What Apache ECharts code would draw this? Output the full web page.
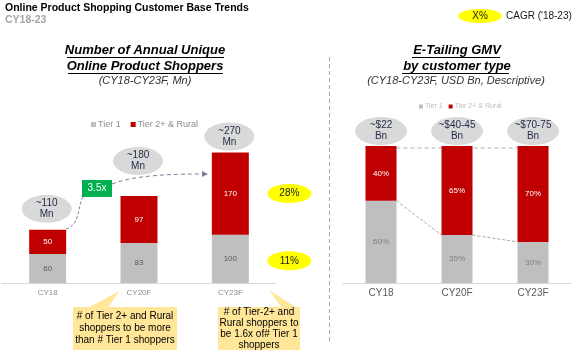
<!DOCTYPE html>
<html><head><meta charset="utf-8">
<script src="https://cdn.jsdelivr.net/npm/echarts@6/dist/echarts.min.js"></script>
<style>html,body{margin:0;padding:0;background:#fff}#c{width:583px;height:360px}</style>
</head><body><div id="c"></div>
<script>
const categories = ['CY18', 'CY20F', 'CY23F'];
const shopTier1 = [60, 83, 100];
const shopTier2 = [50, 97, 170];
const shopTotalLabels = ['~110\nMn', '~180\nMn', '~270\nMn'];
const gmvTier1 = [60, 35, 30];
const gmvTier2 = [40, 65, 70];
const gmvTotalLabels = ['~$22\nBn', '~$40-45\nBn', '~$70-75\nBn'];
const cagrLabels = ['11%', '28%'];
const growthMultiple = '3.5x';
const seriesNames = ['Tier 1', 'Tier 2+ & Rural'];

const FF = 'Liberation Sans, Arial, sans-serif';
const RED = '#C00000', GRAY = '#BFBFBF';

function ellipseItem(labels, lifts, rx, ry, fill, font, dx, color) {
  return function (params, api) {
    const i = params.dataIndex;
    const p = api.coord([api.value(0), api.value(1)]);
    const cx = p[0] + dx, cy = p[1] - lifts[i];
    return {
      type: 'group', children: [
        { type: 'circle', x: cx, y: cy, scaleX: rx / ry, shape: { cx: 0, cy: 0, r: ry }, style: { fill: fill } },
        { type: 'text', x: cx, y: cy, style: { text: labels[i], fill: color, font: font, align: 'center', verticalAlign: 'middle', lineHeight: 11 } }
      ]
    };
  };
}

const chart = echarts.init(document.getElementById('c'));
const option = {
  animation: false,
  textStyle: { fontFamily: FF },
  grid: [
    { left: 2, width: 274, top: 138, height: 145 },
    { left: 343, width: 228, top: 146, height: 137 }
  ],
  xAxis: [
    { gridIndex: 0, type: 'category', data: categories, axisTick: { show: false },
      axisLine: { lineStyle: { color: '#D9D9D9', width: 1 } },
      axisLabel: { color: '#8C8C8C', fontSize: 8, margin: 6, fontFamily: FF } },
    { gridIndex: 1, type: 'category', data: categories, axisTick: { show: false },
      axisLine: { lineStyle: { color: '#D9D9D9', width: 1 } },
      axisLabel: { color: '#595959', fontSize: 10, margin: 5, fontFamily: FF } }
  ],
  yAxis: [
    { gridIndex: 0, type: 'value', min: 0, max: 300, show: false },
    { gridIndex: 1, type: 'value', min: 0, max: 100, show: false }
  ],
  legend: [
    { data: seriesNames, left: 86, top: 115, itemWidth: 5, itemHeight: 5, itemGap: 10,
      icon: 'rect', textStyle: { color: '#8C8C8C', fontSize: 9, fontFamily: FF, padding: [0, 0, 0, -3] } },
    { data: seriesNames, left: 414, top: 98, itemWidth: 4, itemHeight: 4, itemGap: 6,
      icon: 'rect', textStyle: { color: '#BFBFBF', fontSize: 7, fontFamily: FF, padding: [0, 0, 0, -3] } }
  ],
  series: [
    { name: seriesNames[0], type: 'bar', xAxisIndex: 0, yAxisIndex: 0, stack: 'shop', data: shopTier1,
      barWidth: 37, itemStyle: { color: GRAY },
      label: { show: true, position: 'inside', color: '#595959', fontSize: 8, fontFamily: FF } },
    { name: seriesNames[1], type: 'bar', xAxisIndex: 0, yAxisIndex: 0, stack: 'shop', data: shopTier2,
      barWidth: 37, itemStyle: { color: RED },
      label: { show: true, position: 'inside', color: '#FFFFFF', fontSize: 8, fontFamily: FF } },
    { type: 'custom', xAxisIndex: 0, yAxisIndex: 0, silent: true, z: 5,
      data: shopTier1.map((v, i) => [i, v + shopTier2[i]]),
      renderItem: ellipseItem(shopTotalLabels, [21, 35, 16], 25, 14, '#D9D9D9', '10px ' + FF, -1, '#1F2A44') },
    { type: 'custom', xAxisIndex: 0, yAxisIndex: 0, silent: true, z: 5,
      data: [[2, shopTier1[2] / 2], [2, shopTier1[2] + shopTier2[2] / 2]],
      renderItem: ellipseItem(cagrLabels, [-2, 0], 22, 9.5, '#FFFF00', '10px ' + FF, 59, '#1a1a1a') },
    { name: seriesNames[0], type: 'bar', xAxisIndex: 1, yAxisIndex: 1, stack: 'gmv', data: gmvTier1,
      barWidth: 31, itemStyle: { color: GRAY },
      label: { show: true, position: 'inside', color: '#7F7F7F', fontSize: 8, fontFamily: FF, formatter: '{c}%' } },
    { name: seriesNames[1], type: 'bar', xAxisIndex: 1, yAxisIndex: 1, stack: 'gmv', data: gmvTier2,
      barWidth: 31, itemStyle: { color: RED },
      label: { show: true, position: 'inside', color: '#FFFFFF', fontSize: 8, fontFamily: FF, formatter: '{c}%' } },
    { type: 'custom', xAxisIndex: 1, yAxisIndex: 1, silent: true, z: 5,
      data: gmvTier1.map((v, i) => [i, v + gmvTier2[i]]),
      renderItem: ellipseItem(gmvTotalLabels, [15, 15, 15], 26, 14, '#D9D9D9', '10px ' + FF, 0, '#1F2A44') },
    { type: 'custom', xAxisIndex: 1, yAxisIndex: 1, silent: true, z: 1,
      data: gmvTier1.slice(0, -1).map((v, i) => [i, v]),
      renderItem: function (params, api) {
        const i = params.dataIndex;
        const half = 15.5;
        const a = api.coord([i, gmvTier1[i]]);
        const b = api.coord([i + 1, gmvTier1[i + 1]]);
        const children = [
          { type: 'line', shape: { x1: a[0] + half, y1: a[1], x2: b[0] - half, y2: b[1] },
            style: { stroke: '#A6A6A6', lineWidth: 1, lineDash: [3, 2] } }
        ];
        if (i === 0) {
          const t0 = api.coord([0, gmvTier1[0] + gmvTier2[0]]);
          const n = gmvTier1.length - 1;
          const t1 = api.coord([n, gmvTier1[n] + gmvTier2[n]]);
          children.push({ type: 'line', shape: { x1: t0[0] + half, y1: t0[1] + 2, x2: t1[0] - half, y2: t1[1] + 2 },
            style: { stroke: '#B0B0B0', lineWidth: 1, lineDash: [4, 3] } });
        }
        return { type: 'group', children: children };
      } }
  ],
  graphic: [
    { type: 'text', left: 5, top: 3, style: { text: 'Online Product Shopping Customer Base Trends', font: 'bold 10.5px ' + FF, fill: '#000' } },
    { type: 'text', left: 5, top: 15, style: { text: 'CY18-23', font: 'bold 10.5px ' + FF, fill: '#A5A5A5' } },
    // CAGR key
    { type: 'ellipse', shape: { cx: 480, cy: 16, rx: 22, ry: 7 }, style: { fill: '#FFFF00' } },
    { type: 'text', x: 480, y: 16, style: { text: 'X%', font: '10px ' + FF, fill: '#1a1a1a', align: 'center', verticalAlign: 'middle' } },
    { type: 'text', x: 506, y: 16, style: { text: "CAGR ('18-23)", font: '10px ' + FF, fill: '#1a1a1a', align: 'left', verticalAlign: 'middle' } },
    // left titles
    { type: 'text', x: 145, y: 50, style: { text: 'Number of Annual Unique', font: 'italic bold 13px ' + FF, fill: '#000', align: 'center', verticalAlign: 'middle' } },
    { type: 'line', shape: { x1: 67, y1: 57.5, x2: 224, y2: 57.5 }, style: { stroke: '#000', lineWidth: 1 } },
    { type: 'text', x: 145, y: 66, style: { text: 'Online Product Shoppers', font: 'italic bold 13px ' + FF, fill: '#000', align: 'center', verticalAlign: 'middle' } },
    { type: 'line', shape: { x1: 68, y1: 73.5, x2: 223, y2: 73.5 }, style: { stroke: '#000', lineWidth: 1 } },
    { type: 'text', x: 145, y: 81, style: { text: '(CY18-CY23F, Mn)', font: 'italic 11px ' + FF, fill: '#333', align: 'center', verticalAlign: 'middle' } },
    // right titles
    { type: 'text', x: 457, y: 50, style: { text: 'E-Tailing GMV', font: 'italic bold 13px ' + FF, fill: '#000', align: 'center', verticalAlign: 'middle' } },
    { type: 'line', shape: { x1: 412, y1: 57.5, x2: 500, y2: 57.5 }, style: { stroke: '#000', lineWidth: 1 } },
    { type: 'text', x: 457, y: 66, style: { text: 'by customer type', font: 'italic bold 13px ' + FF, fill: '#000', align: 'center', verticalAlign: 'middle' } },
    { type: 'line', shape: { x1: 402, y1: 73.5, x2: 509, y2: 73.5 }, style: { stroke: '#000', lineWidth: 1 } },
    { type: 'text', x: 456, y: 81, style: { text: '(CY18-CY23F, USD Bn, Descriptive)', font: 'italic 11px ' + FF, fill: '#333', align: 'center', verticalAlign: 'middle' } },
    // separator
    { type: 'line', shape: { x1: 329.5, y1: 57, x2: 329.5, y2: 343 }, style: { stroke: '#A6A6A6', lineWidth: 1, lineDash: [4, 3] } },
    // growth arrow
    { type: 'bezierCurve', shape: { x1: 66, y1: 229, cpx1: 80, cpy1: 226, cpx2: 78, cpy2: 204, x2: 83, y2: 197 },
      style: { stroke: '#7F7F99', lineWidth: 1, lineDash: [3, 2], fill: null } },
    { type: 'bezierCurve', shape: { x1: 112, y1: 184, cpx1: 128, cpy1: 178, cpx2: 150, cpy2: 174, x2: 203, y2: 174 },
      style: { stroke: '#7F7F99', lineWidth: 1, lineDash: [4, 3], fill: null } },
    { type: 'polygon', shape: { points: [[208, 174], [202, 171], [202, 177]] }, style: { fill: '#7F7F99' } },
    { type: 'rect', shape: { x: 82, y: 180, width: 30, height: 17 }, style: { fill: '#00B050' } },
    { type: 'text', x: 97, y: 188.5, style: { text: growthMultiple, font: '10px ' + FF, fill: '#fff', align: 'center', verticalAlign: 'middle' } },
    // callouts
    { type: 'polygon', shape: { points: [[88, 308], [108, 308], [119, 291]] }, style: { fill: '#FFE699' } },
    { type: 'rect', shape: { x: 73, y: 307, width: 104, height: 43 }, style: { fill: '#FFE699' } },
    { type: 'text', x: 125, y: 328, style: { text: '# of Tier 2+ and Rural\nshoppers to be more\nthan # Tier 1 shoppers', font: '10px ' + FF, fill: '#000', align: 'center', verticalAlign: 'middle', lineHeight: 12 } },
    { type: 'polygon', shape: { points: [[269, 290], [282, 308], [297, 308]] }, style: { fill: '#FFE699' } },
    { type: 'rect', shape: { x: 218, y: 307, width: 82, height: 43 }, style: { fill: '#FFE699' } },
    { type: 'text', x: 259, y: 329, style: { text: '# of Tier-2+ and\nRural shoppers to\nbe 1.6x of# Tier 1\nshoppers', font: '10px ' + FF, fill: '#000', align: 'center', verticalAlign: 'middle', lineHeight: 11 } }
  ]
};
chart.setOption(option);
</script>
</body></html>
